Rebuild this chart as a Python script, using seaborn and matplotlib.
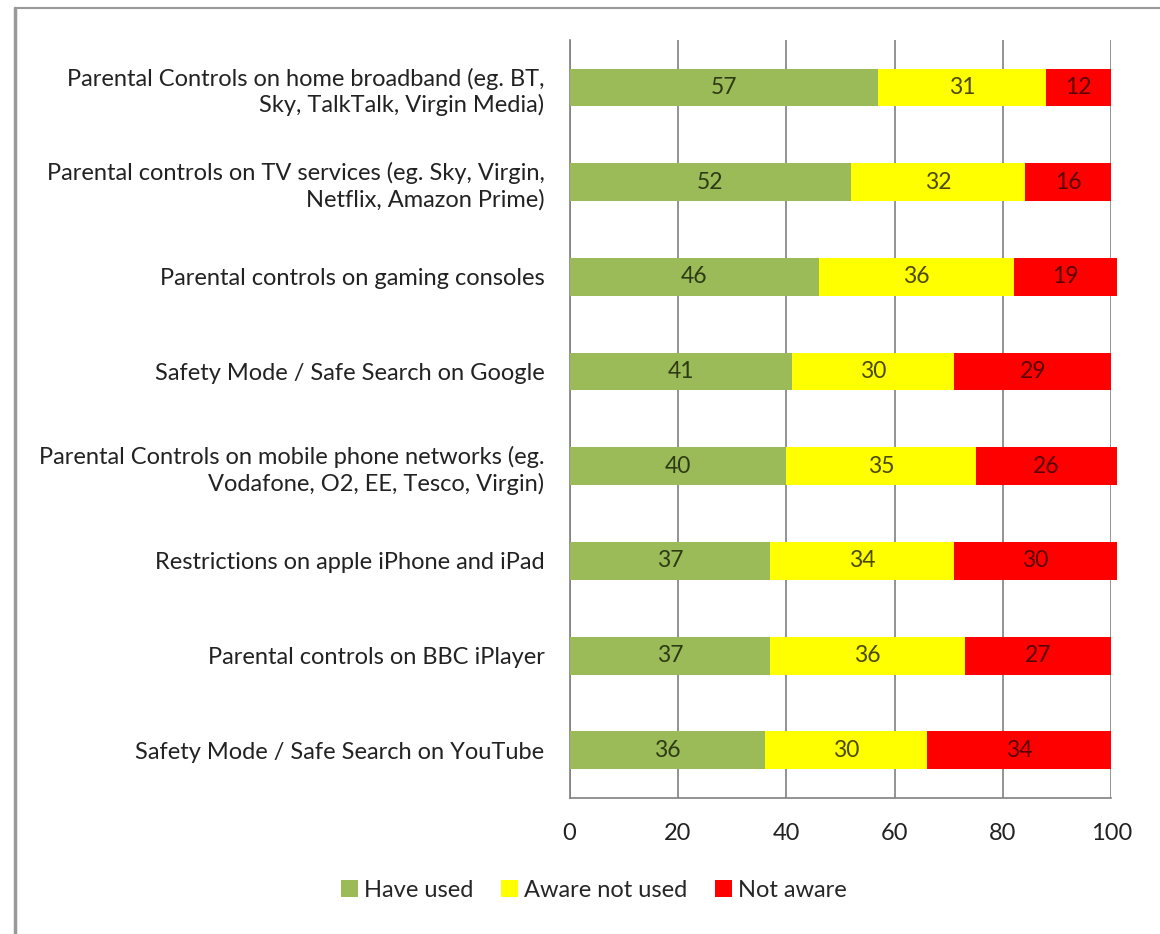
import numpy as np
import pandas as pd
import matplotlib.pyplot as plt
import seaborn as sns
from matplotlib.lines import Line2D
from matplotlib.patches import Patch

# --- DATA ---
categories = [
    "Parental Controls on home broadband (eg. BT,\nSky, TalkTalk, Virgin Media)",
    "Parental controls on TV services (eg. Sky, Virgin,\nNetflix, Amazon Prime)",
    "Parental controls on gaming consoles",
    "Safety Mode / Safe Search on Google",
    "Parental Controls on mobile phone networks (eg.\nVodafone, O2, EE, Tesco, Virgin)",
    "Restrictions on apple iPhone and iPad",
    "Parental controls on BBC iPlayer",
    "Safety Mode / Safe Search on YouTube",
]
have_used = [57, 52, 46, 41, 40, 37, 37, 36]
aware_not_used = [31, 32, 36, 30, 35, 34, 36, 30]
not_aware = [12, 16, 19, 29, 26, 30, 27, 34]
series_names = ["Have used", "Aware not used", "Not aware"]

# --- STYLING ---
sns.set_style("white")
plt.rcParams['font.family'] = ['Lato', 'DejaVu Sans']
plt.rcParams['font.size'] = 17

colors = ["#9BBB59", "#FFFF00", "#FF0000"]
text_colors = ["#2E3A14", "#4A4A00", "#5A0000"]

df = pd.DataFrame({
    'category': categories,
    'Have used': have_used,
    'Aware not used': aware_not_used,
    'Not aware': not_aware,
})
df['cum1'] = df['Have used']
df['cum2'] = df['cum1'] + df['Aware not used']
df['cum3'] = df['cum2'] + df['Not aware']

fig = plt.figure(figsize=(11.6, 9.34), dpi=100)
ax = fig.add_axes([0.491, 0.146, 0.467, 0.811])

# draw cumulative totals back to front so they look stacked
for col, c in zip(['cum3', 'cum2', 'cum1'], colors[::-1]):
    sns.barplot(data=df, x=col, y='category', color=c, width=0.4,
                saturation=1, ax=ax, orient='h', linewidth=0, zorder=3)
for p in ax.patches:
    p.set_clip_on(False)  # totals of 101 poke past the 100 line

# segment labels
starts = [np.zeros(len(df)), df['cum1'].values, df['cum2'].values]
for name, st, tc in zip(series_names, starts, text_colors):
    vals = df[name].values
    for i, (s, v) in enumerate(zip(st, vals)):
        ax.text(s + v / 2, i, str(v), ha='center', va='center',
                fontsize=16.5, color=tc, zorder=4)

ax.set_xlim(0, 100)
ax.set_ylim(len(df) - 0.5, -0.5)
ax.set_xticks([0, 20, 40, 60, 80, 100])
ax.xaxis.grid(True, color='#808080', linewidth=1.2, zorder=0)
ax.set_axisbelow(True)
ax.set_xlabel('')
ax.set_ylabel('')
ax.tick_params(axis='x', length=0, pad=18, labelsize=17, colors='#222222')
ax.tick_params(axis='y', length=0, pad=18, labelsize=17, colors='#222222')
for lab in ax.get_yticklabels():
    lab.set_multialignment('right')
    lab.set_linespacing(1.25)

for side in ['top', 'right']:
    ax.spines[side].set_visible(False)
for side in ['left', 'bottom']:
    ax.spines[side].set_color('#808080')
    ax.spines[side].set_linewidth(1.2)

handles = [Patch(facecolor=c, edgecolor='none') for c in colors]
fig.legend(handles, series_names, loc='center', bbox_to_anchor=(0.512, 0.047),
           ncol=3, frameon=False, fontsize=17, handlelength=0.7,
           handleheight=0.7, handletextpad=0.25, columnspacing=1.2)

# outer frame (left and top edges visible)
fig.add_artist(Line2D([0.013, 0.013], [0.0, 0.991], color='#999999', linewidth=2.5))
fig.add_artist(Line2D([0.013, 1.0], [0.991, 0.991], color='#999999', linewidth=1.5))

fig.savefig('out.png', dpi=100)
